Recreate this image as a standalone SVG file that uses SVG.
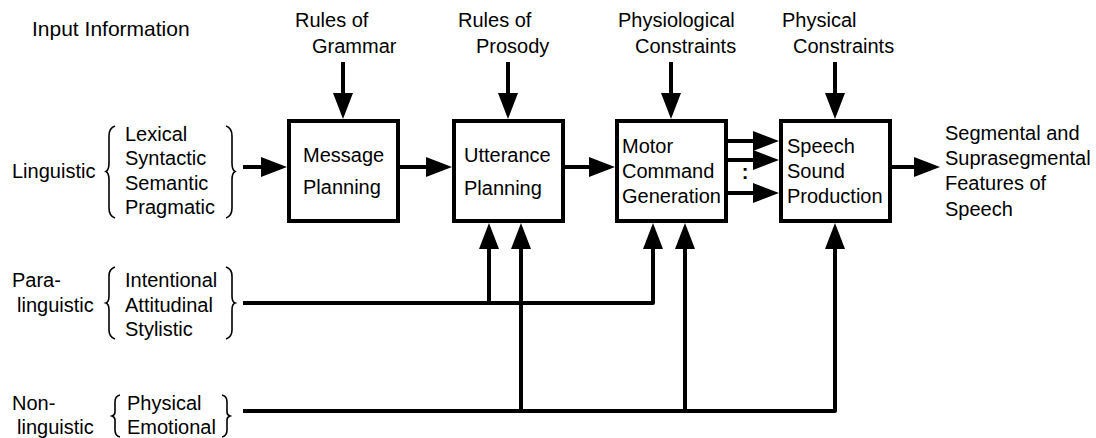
<svg xmlns="http://www.w3.org/2000/svg" width="1096" height="438" viewBox="0 0 1096 438">
<style>
text{font-family:"Liberation Sans",Arial,sans-serif;font-size:20px;fill:#000}
.box{fill:#fff;stroke:#000;stroke-width:4}
.conn{fill:none;stroke:#000;stroke-width:4;stroke-linejoin:round}
.brace{fill:none;stroke:#000;stroke-width:1.6}
</style>
<defs>
<marker id="ah" markerUnits="userSpaceOnUse" markerWidth="26" markerHeight="20" refX="16" refY="10" orient="auto" viewBox="0 0 26 20">
<path d="M0,0 L26,10 L0,20 z" fill="#000"/>
</marker>
</defs>
<rect width="1096" height="438" fill="#fff"/>

<g id="labels">
<text x="32" y="36" style="font-size:21px">Input Information</text>
<text x="295" y="27">Rules of</text>
<text x="312" y="53">Grammar</text>
<text x="458" y="27">Rules of</text>
<text x="476" y="53">Prosody</text>
<text x="618" y="27">Physiological</text>
<text x="635" y="53">Constraints</text>
<text x="782" y="27">Physical</text>
<text x="793" y="53">Constraints</text>
</g>

<g id="input-linguistic">
<text x="12" y="178">Linguistic</text>
<path class="brace" d="M115,126 Q109,128 109,136 L109,163 Q109,170 106,171.5 Q109,173 109,180 L109,208 Q109,216 115,218"/>
<text x="125" y="141">Lexical</text>
<text x="125" y="165">Syntactic</text>
<text x="125" y="190">Semantic</text>
<text x="125" y="214">Pragmatic</text>
<path class="brace" d="M226,126 Q232,128 232,136 L232,163 Q232,170 235,171.5 Q232,173 232,180 L232,208 Q232,216 226,218"/>
</g>

<g id="input-paralinguistic">
<text x="12" y="287">Para-</text>
<text x="17" y="312">linguistic</text>
<path class="brace" d="M115,267 Q109,269 109,276 L109,296 Q109,302 106,303 Q109,304 109,310 L109,330 Q109,337 115,339"/>
<text x="125" y="287">Intentional</text>
<text x="125" y="312">Attitudinal</text>
<text x="125" y="336">Stylistic</text>
<path class="brace" d="M226,267 Q232,269 232,276 L232,296 Q232,302 235,303 Q232,304 232,310 L232,330 Q232,337 226,339"/>
</g>

<g id="input-nonlinguistic">
<text x="12" y="410">Non-</text>
<text x="17" y="434">linguistic</text>
<path class="brace" d="M120,395 Q115,396 115,402 L115,412 Q115,415 112,416 Q115,417 115,420 L115,430 Q115,436 120,437"/>
<text x="127" y="410">Physical</text>
<text x="127" y="434">Emotional</text>
<path class="brace" d="M222,395 Q227,396 227,402 L227,412 Q227,415 230,416 Q227,417 227,420 L227,430 Q227,436 222,437"/>
</g>

<g id="message-planning">
<rect class="box" x="289" y="121" width="109" height="100"/>
<text x="303" y="162">Message</text>
<text x="303" y="194">Planning</text>
</g>

<g id="utterance-planning">
<rect class="box" x="454" y="121" width="109" height="100"/>
<text x="464" y="162">Utterance</text>
<text x="464" y="195">Planning</text>
</g>

<g id="motor-command-generation">
<rect class="box" x="617" y="121" width="109" height="100"/>
<text x="622" y="153">Motor</text>
<text x="622" y="178">Command</text>
<text x="622" y="203">Generation</text>
</g>

<g id="speech-sound-production">
<rect class="box" x="781" y="121" width="109" height="100"/>
<text x="787" y="153">Speech</text>
<text x="787" y="178">Sound</text>
<text x="787" y="203">Production</text>
</g>

<g id="output">
<text x="945" y="140">Segmental and</text>
<text x="945" y="165">Suprasegmental</text>
<text x="945" y="190">Features of</text>
<text x="945" y="216">Speech</text>
</g>

<g id="connectors">
<path class="conn" marker-end="url(#ah)" d="M343,62 V109"/>
<path class="conn" marker-end="url(#ah)" d="M508,62 V109"/>
<path class="conn" marker-end="url(#ah)" d="M671,62 V109"/>
<path class="conn" marker-end="url(#ah)" d="M835,62 V109"/>

<path class="conn" marker-end="url(#ah)" d="M243,167 H277"/>
<path class="conn" marker-end="url(#ah)" d="M400,167 H442"/>
<path class="conn" marker-end="url(#ah)" d="M565,167 H605"/>
<path class="conn" marker-end="url(#ah)" d="M728,141 H769"/>
<path class="conn" marker-end="url(#ah)" d="M728,160 H769"/>
<path class="conn" marker-end="url(#ah)" d="M728,193 H769"/>
<text x="745" y="179" text-anchor="middle" style="font-weight:bold">:</text>
<path class="conn" marker-end="url(#ah)" d="M892,167 H930"/>

<path class="conn" marker-end="url(#ah)" d="M243,303 H653 V233"/>
<path class="conn" marker-end="url(#ah)" d="M489,303 V233"/>
<path class="conn" marker-end="url(#ah)" d="M243,411 H835 V233"/>
<path class="conn" marker-end="url(#ah)" d="M521,411 V233"/>
<path class="conn" marker-end="url(#ah)" d="M685,411 V233"/>
</g>
</svg>
